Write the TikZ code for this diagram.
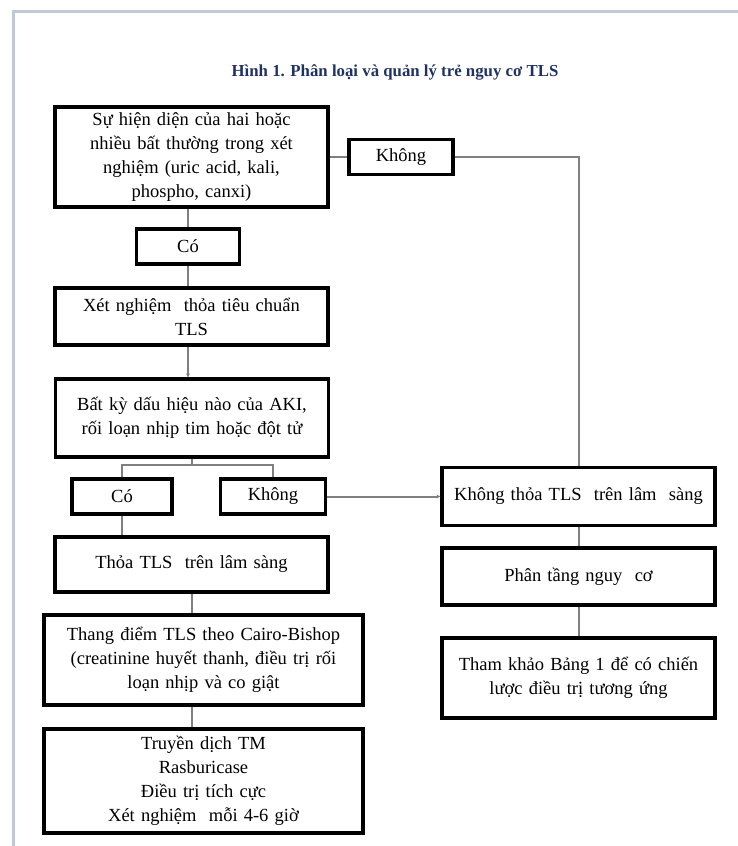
\documentclass[tikz,border=0pt]{standalone}
\usepackage{fontspec}
\setmainfont{Liberation Serif}
\usetikzlibrary{arrows.meta}

\definecolor{titleblue}{RGB}{31,50,99}
\definecolor{linegray}{RGB}{128,128,128}
\definecolor{framegray}{RGB}{192,200,214}

\begin{document}
\begin{tikzpicture}[x=1pt, y=1pt, >={Stealth[length=4pt,width=4pt]},
    every node/.style={font=\fontsize{18.5}{24}\selectfont},
    box/.style={draw=black, line width=3.2pt, fill=white, align=center, inner sep=0pt,
                minimum width=273pt, text width=265pt},
    wide/.style={box, minimum width=319pt, text width=310pt},
    ans/.style={draw=black, line width=3.2pt, fill=white, inner sep=0pt,
                minimum height=35pt},
    line/.style={draw=linegray, line width=2pt}]
    \useasboundingbox (0,0) rectangle (738,-846);
    % page frame
    \draw[framegray, line width=3pt] (13,-846) -- (13,-11) -- (738,-11);

    \node[font=\bfseries\fontsize{16.8}{18}\selectfont, text=titleblue] (title) at (395,-72)
        {Hình 1. Phân loại và quản lý trẻ nguy cơ TLS};

    % left column
    \node[box, minimum height=100pt] (sign) at (191.5,-157)
        {Sự hiện diện của hai hoặc\\nhiều bất thường trong xét\\nghiệm (uric acid, kali,\\phospho, canxi)};
    \node[ans, minimum width=104pt] (no1)  [right of=sign, node distance=209.5pt] {Không};
    \node[ans, minimum width=103pt] (yes1) [below of=sign, node distance=89.5pt, xshift=-3.5pt] {Có};
    \node[box, minimum height=57pt] (test) [below of=yes1, node distance=70pt, xshift=3.5pt]
        {Xét nghiệm\ \ thỏa tiêu chuẩn\\TLS};
    \node[box, minimum height=78pt] (aki) [below of=test, node distance=101.5pt, xshift=0.5pt]
        {Bất kỳ dấu hiệu nào của AKI,\\rối loạn nhịp tim hoặc đột tử};
    \node[ans, minimum width=100pt] (yes2) [below of=aki, node distance=78.5pt, xshift=-70pt] {Có};
    \node[ans, minimum width=105pt] (no2)  [right of=yes2, node distance=151pt] {Không};
    \node[box, minimum height=55pt] (clin) [below of=yes2, node distance=68pt, xshift=69.5pt]
        {Thỏa TLS\ \ trên lâm sàng};
    \node[wide, minimum height=90pt] (cairo) [below of=clin, node distance=95.5pt, xshift=12pt]
        {Thang điểm TLS theo Cairo-Bishop\\(creatinine huyết thanh, điều trị rối\\loạn nhịp và co giật};
    \node[wide, minimum height=104pt] (fluid) [below of=cairo, node distance=121pt]
        {Truyền dịch TM\\Rasburicase\\Điều trị tích cực\\Xét nghiệm\ \ mỗi 4-6 giờ};

    % right column
    \node[box, minimum height=58pt] (nclin) [right of=no2, node distance=305.5pt]
        {Không thỏa TLS\ \ trên lâm\ \ sàng};
    \node[box, minimum height=57pt] (strat) [below of=nclin, node distance=80pt]
        {Phân tầng nguy\ \ cơ};
    \node[box, minimum height=80pt] (guide) [below of=strat, node distance=101.5pt]
        {Tham khảo Bảng 1 để có chiến\\lược điều trị tương ứng};

    % connectors
    \draw[line] (sign.east) -- (no1.west);
    \draw[line] (no1.east) -| (nclin.north);
    \draw[line] (yes1 |- sign.south) -- (yes1.north);
    \draw[line] (yes1.south) -- (yes1 |- test.north);
    \draw[line, ->] (yes1 |- test.south) -- (yes1 |- aki.north);
    \draw[line] (aki.south) -- ++(0,-6) coordinate (fork);
    \draw[line] (yes2.north) |- (fork) -| (no2.north);
    \draw[line, ->] (no2.east) -- (nclin.west);
    \draw[line] (yes2.south) -- (yes2 |- clin.north);
    \draw[line] (clin.south) -- (clin.south |- cairo.north);
    \draw[line] (clin.south |- cairo.south) -- (clin.south |- fluid.north);
    \draw[line] (nclin.south) -- (strat.north);
    \draw[line] (strat.south) -- (guide.north);
\end{tikzpicture}
\end{document}
